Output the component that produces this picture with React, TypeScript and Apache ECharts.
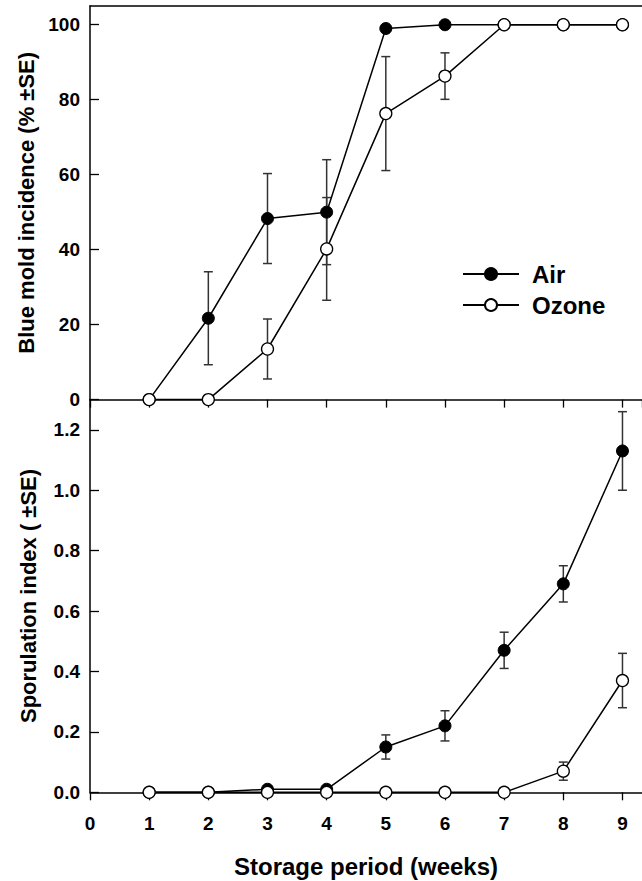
import React, { useEffect, useRef } from "react";
import * as echarts from "echarts";

const weeks = [1, 2, 3, 4, 5, 6, 7, 8, 9];
const xTicks = [0, 1, 2, 3, 4, 5, 6, 7, 8, 9];

const incidenceAir = [0, 21.7, 48.3, 50, 99, 100, 100, 100, 100];
const incidenceAirSE = [0, 12.4, 12, 14, 0, 0, 0, 0, 0];
const incidenceOzone = [0, 0, 13.5, 40.2, 76.3, 86.3, 100, 100, 100];
const incidenceOzoneSE = [0, 0, 8, 13.7, 15.2, 6.2, 0, 0, 0];

const sporAir = [0, 0, 0.01, 0.01, 0.15, 0.22, 0.47, 0.69, 1.13];
const sporAirSE = [0, 0, 0.004, 0.004, 0.04, 0.05, 0.06, 0.06, 0.13];
const sporOzone = [0, 0, 0, 0, 0, 0, 0, 0.07, 0.37];
const sporOzoneSE = [0, 0, 0, 0, 0, 0, 0, 0.03, 0.09];

const FONT = "'Liberation Sans', Arial, Helvetica, sans-serif";

const pairs = (vals: number[]) => weeks.map((w, i) => [w, vals[i]]);
const errData = (vals: number[], se: number[]) =>
  weeks
    .map((w, i) => [w, vals[i] - se[i], vals[i] + se[i]])
    .filter((d, i) => se[i] > 0);

const errorRender = (params: any, api: any) => {
  const x = api.value(0);
  const lo = api.value(1);
  const hi = api.value(2);
  const pHi = api.coord([x, hi]);
  const pLo = api.coord([x, lo]);
  const w = 4.5;
  const style = { stroke: "#333", lineWidth: 1.5 };
  return {
    type: "group",
    children: [
      { type: "line", shape: { x1: pHi[0], y1: pHi[1], x2: pLo[0], y2: pLo[1] }, style },
      { type: "line", shape: { x1: pHi[0] - w, y1: pHi[1], x2: pHi[0] + w, y2: pHi[1] }, style },
      { type: "line", shape: { x1: pLo[0] - w, y1: pLo[1], x2: pLo[0] + w, y2: pLo[1] }, style },
    ],
  };
};

export default function App() {
  const ref = useRef<HTMLDivElement>(null);
  useEffect(() => {
    if (!ref.current) return;
    const chart = echarts.init(ref.current, undefined, { renderer: "svg" });
    const XMAX = 9.33;
    const axisLine = { show: true, lineStyle: { color: "#000", width: 1.5 } };
    const labelStyle = { color: "#000", fontFamily: FONT, fontWeight: "bold" as const, fontSize: 19 };
    const nameStyle = { color: "#000", fontFamily: FONT, fontWeight: "bold" as const, fontSize: 22 };

    const airLine = (data: number[], xi: number, yi: number) => ({
      name: "Air",
      type: "line",
      xAxisIndex: xi,
      yAxisIndex: yi,
      data: pairs(data),
      symbol: "circle",
      symbolSize: 12,
      lineStyle: { color: "#000", width: 1.5 },
      itemStyle: { color: "#000", borderColor: "#000", borderWidth: 1 },
      z: 3,
    });
    const ozoneLine = (data: number[], xi: number, yi: number) => ({
      name: "Ozone",
      type: "line",
      xAxisIndex: xi,
      yAxisIndex: yi,
      data: pairs(data),
      symbol: "circle",
      symbolSize: 12,
      lineStyle: { color: "#000", width: 1.5 },
      itemStyle: { color: "#fff", borderColor: "#000", borderWidth: 1.3 },
      z: 4,
    });
    const errSeries = (vals: number[], se: number[], xi: number, yi: number) => ({
      type: "custom",
      xAxisIndex: xi,
      yAxisIndex: yi,
      data: errData(vals, se),
      renderItem: errorRender,
      encode: { x: 0, y: [1, 2] },
      z: 2,
      silent: true,
    });

    chart.setOption({
      animation: false,
      backgroundColor: "#fff",
      grid: [
        { left: 90, top: 6, width: 552, height: 393.6 },
        { left: 90, top: 399.6, width: 552, height: 392.7 },
      ],
      legend: {
        data: ["Air", "Ozone"],
        orient: "vertical",
        left: 462,
        top: 262,
        padding: 0,
        itemWidth: 56,
        itemHeight: 15,
        itemGap: 7,
        selectedMode: false,
        textStyle: {
          color: "#000",
          fontFamily: FONT,
          fontWeight: "bold",
          fontSize: 24,
          lineHeight: 22,
          padding: [0, 0, 0, 8],
        },
      },
      xAxis: [
        {
          type: "value",
          gridIndex: 0,
          min: 0,
          max: XMAX,
          interval: 1,
          position: "bottom",
          axisLine,
          axisTick: { show: true, inside: false, length: 8, lineStyle: { color: "#000", width: 1.3 } },
          axisLabel: { show: false },
          splitLine: { show: false },
        },
        {
          type: "value",
          gridIndex: 1,
          min: 0,
          max: XMAX,
          interval: 1,
          position: "bottom",
          axisLine,
          axisTick: { show: true, inside: false, length: 8, lineStyle: { color: "#000", width: 1.3 } },
          axisLabel: {
            ...labelStyle,
            margin: 22,
            showMaxLabel: false,
            formatter: (v: number) => (xTicks.includes(v) ? String(v) : ""),
          },
          splitLine: { show: false },
          name: "Storage period (weeks)",
          nameLocation: "middle",
          nameGap: 62,
          nameTextStyle: { ...nameStyle, fontSize: 24 },
        },
        {
          type: "value",
          gridIndex: 0,
          min: 0,
          max: XMAX,
          position: "top",
          axisLine,
          axisTick: { show: false },
          axisLabel: { show: false },
          splitLine: { show: false },
        },
      ],
      yAxis: [
        {
          type: "value",
          gridIndex: 0,
          min: 0,
          max: 105,
          interval: 20,
          axisLine,
          axisTick: { show: true, inside: true, length: 9, lineStyle: { color: "#000", width: 1.3 } },
          axisLabel: {
            ...labelStyle,
            margin: 10,
            showMaxLabel: false,
            formatter: (v: number) => (v % 20 === 0 ? String(v) : ""),
          },
          splitLine: { show: false },
          name: "Blue mold incidence (% ±SE)",
          nameLocation: "middle",
          nameRotate: 90,
          nameGap: 51,
          nameTextStyle: nameStyle,
        },
        {
          type: "value",
          gridIndex: 1,
          min: 0,
          max: 1.3,
          interval: 0.2,
          axisLine,
          axisTick: { show: true, inside: true, length: 9, lineStyle: { color: "#000", width: 1.3 } },
          axisLabel: {
            ...labelStyle,
            margin: 10,
            showMaxLabel: false,
            formatter: (v: number) => {
              const r = Math.round(v * 10) / 10;
              return Math.abs(v - r) < 1e-6 && Math.round(r * 10) % 2 === 0 ? r.toFixed(1) : "";
            },
          },
          splitLine: { show: false },
          name: "Sporulation index ( ±SE)",
          nameLocation: "middle",
          nameRotate: 90,
          nameGap: 51,
          nameTextStyle: nameStyle,
        },
      ],
      series: [
        errSeries(incidenceAir, incidenceAirSE, 0, 0),
        errSeries(incidenceOzone, incidenceOzoneSE, 0, 0),
        airLine(incidenceAir, 0, 0),
        ozoneLine(incidenceOzone, 0, 0),
        errSeries(sporAir, sporAirSE, 1, 1),
        errSeries(sporOzone, sporOzoneSE, 1, 1),
        airLine(sporAir, 1, 1),
        ozoneLine(sporOzone, 1, 1),
      ],
    });
    return () => chart.dispose();
  }, []);
  return (
    <div
      ref={ref}
      style={{ position: "absolute", left: 0, top: 0, width: 642, height: 881, background: "#fff" }}
    />
  );
}
